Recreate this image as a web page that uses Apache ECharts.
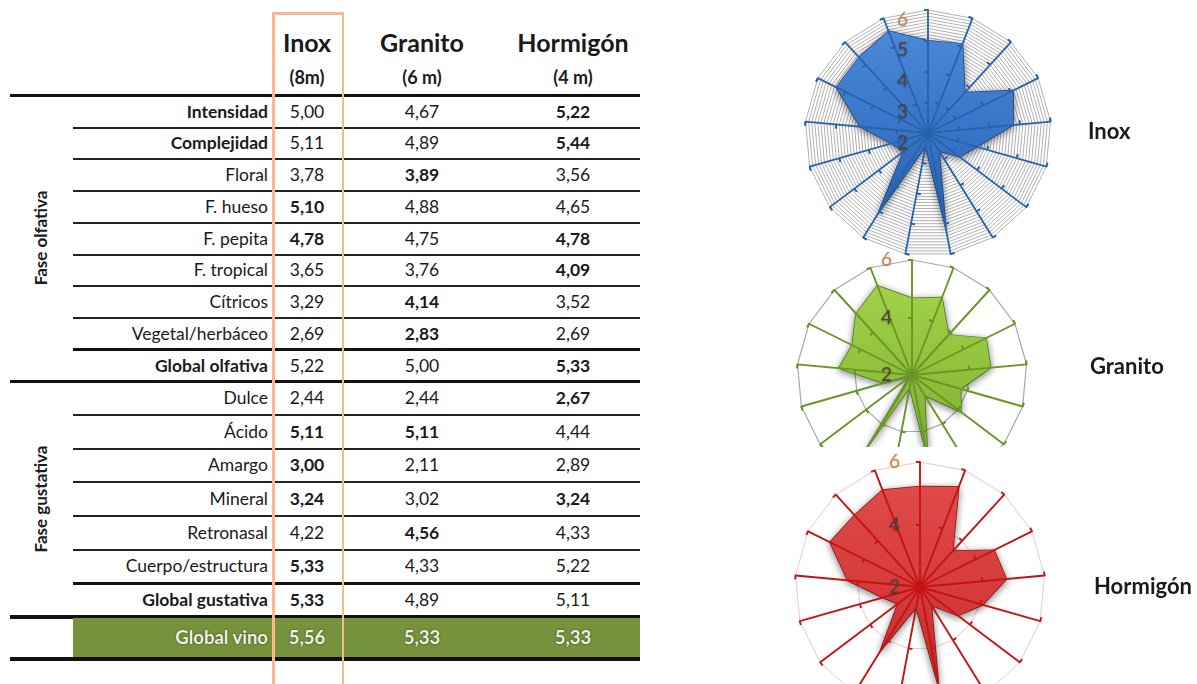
<!DOCTYPE html>
<html lang="es">
<head>
<meta charset="utf-8">
<title>Cata por tipo de depósito</title>
<script src="https://cdn.jsdelivr.net/npm/echarts@6/dist/echarts.min.js"></script>
<style>
  html, body { margin: 0; padding: 0; background: #fff; }
  #page { position: relative; width: 1197px; height: 684px; overflow: hidden; background: #fff;
          font-family: Lato, "Open Sans", sans-serif; color: #1a1a1a; }
  .abs { position: absolute; }
  .txt { position: absolute; white-space: nowrap; line-height: 1; }
  .chart { position: absolute; }
</style>
</head>
<body>
<div id="page">
  <div id="table"></div>
  <div id="cInox" class="chart" style="left:790px; top:0px; width:407px; height:262px;"></div>
  <div id="cGranito" class="chart" style="left:790px; top:245px; width:407px; height:202px;"></div>
  <div id="cHormigon" class="chart" style="left:780px; top:447px; width:417px; height:237px;"></div>
</div>
<script>
// ---- Data ----
const attributes = ['Intensidad', 'Complejidad', 'Floral', 'F. hueso', 'F. pepita', 'F. tropical',
  'Cítricos', 'Vegetal/herbáceo', 'Global olfativa', 'Dulce', 'Ácido', 'Amargo', 'Mineral',
  'Retronasal', 'Cuerpo/estructura', 'Global gustativa', 'Global vino'];
const inox     = [5.00, 5.11, 3.78, 5.10, 4.78, 3.65, 3.29, 2.69, 5.22, 2.44, 5.11, 3.00, 3.24, 4.22, 5.33, 5.33, 5.56];
const granito  = [4.67, 4.89, 3.89, 4.88, 4.75, 3.76, 4.14, 2.83, 5.00, 2.44, 5.11, 2.11, 3.02, 4.56, 4.33, 4.89, 5.33];
const hormigon = [5.22, 5.44, 3.56, 4.65, 4.78, 4.09, 3.52, 2.69, 5.33, 2.67, 4.44, 2.89, 3.24, 4.33, 5.22, 5.11, 5.33];
const columns = ['Inox', 'Granito', 'Hormigón'];
const subtitles = ['(8m)', '(6 m)', '(4 m)'];
const phases = ['Fase olfativa', 'Fase gustativa'];
const phaseSizes = [9, 7];              // attributes per phase; the last one is the global row
const boldLabels = ['Intensidad', 'Complejidad', 'Global olfativa', 'Global gustativa'];
const radarTicks = [2, 3, 4, 5, 6];

const series = [inox, granito, hormigon];
const fmt = v => v.toFixed(2).replace('.', ',');

// ---- Table ----
const page = document.getElementById('table');
function box(x, y, w, h, color) {
  const d = document.createElement('div');
  d.className = 'abs';
  Object.assign(d.style, { left: x + 'px', top: y + 'px', width: w + 'px', height: h + 'px', background: color });
  page.appendChild(d);
  return d;
}
function text(str, x, y, opts) {
  const d = document.createElement('div');
  d.className = 'txt';
  d.textContent = str;
  const align = opts.align || 'center';
  const tx = align === 'center' ? '-50%' : (align === 'right' ? '-100%' : '0');
  Object.assign(d.style, {
    left: x + 'px', top: y + 'px', fontSize: (opts.size || 16) + 'px',
    fontWeight: opts.bold ? '700' : '400', color: opts.color || '#1a1a1a',
    transform: `translate(${tx}, -50%)` + (opts.rotate ? ` rotate(${opts.rotate}deg)` : ''),
    textShadow: opts.shadow || 'none'
  });
  page.appendChild(d);
  return d;
}

const colX = [307, 422, 573];
const labelRight = 268;
const bodySize = 17.5;

// column headers
columns.forEach((c, i) => {
  text(c, colX[i], 42, { size: 25, bold: true });
  text(subtitles[i], colX[i], 77, { size: 18, bold: true });
});

// phase blocks
const sectionTop = [95.5, 381];
const rowStep = [31.75, 33.67];
let attrIdx = 0;
box(10, 94, 630, 3, '#111');
phases.forEach((p, s) => {
  const n = phaseSizes[s];
  const y0 = sectionTop[s] + rowStep[s] / 2 + 0.3;
  for (let r = 0; r < n; r++) {
    const a = attrIdx + r;
    const y = y0 + r * rowStep[s];
    text(attributes[a], labelRight, y, { size: bodySize, bold: boldLabels.includes(attributes[a]), align: 'right' });
    const vals = series.map(sr => sr[a]);
    const mx = Math.max(...vals);
    vals.forEach((v, k) => text(fmt(v), colX[k], y, { size: bodySize, bold: v === mx }));
    const ly = y + rowStep[s] / 2;
    if (r < n - 2) box(73, ly - 1, 567, 2, '#222');
    else if (r === n - 2) box(73, ly - 1.5, 567, 3, '#111');
  }
  const bottom = sectionTop[s] + n * rowStep[s];
  if (s === 0) box(10, bottom - 1.5, 630, 3, '#111');
  else box(10, bottom - 2, 630, 4, '#111');
  text(p, 40, (sectionTop[s] + bottom) / 2, { size: 17, bold: true, rotate: -90 });
  attrIdx += n;
});

// overall row on a green band
const vino = attributes.length - 1;
box(73, 618, 567, 40, '#76923c');
box(10, 657, 630, 4, '#111');
const glow = '0 0 2px #3d4a22, 0 0 1px #3d4a22';
text(attributes[vino], labelRight, 637, { size: 18.5, bold: true, color: '#eef3e2', shadow: glow, align: 'right' });
series.forEach((sr, k) => text(fmt(sr[vino]), colX[k], 637, { size: 18.5, bold: true, color: '#eef3e2', shadow: glow }));

// highlighted Inox column frame
box(272, 12, 72, 2.5, '#f7b98b');
box(272, 12, 2.5, 672, '#f7b98b');
box(341.5, 12, 2.5, 672, '#f7b98b');

// ---- Radar charts ----
// indicators are laid out counter-clockwise, so keep the first one at the top and reverse the rest
const order = [0].concat(attributes.map((_, i) => i).slice(1).reverse());
const rMin = radarTicks[0], rMax = radarTicks[radarTicks.length - 1];

function indicators(withLabel) {
  return order.map((i, k) => ({ name: attributes[i], min: rMin, max: rMax, axisLabel: { show: withLabel && k === 0 } }));
}

function labelStyle(margin, vAlign) {
  return {
    show: false, margin: margin, fontFamily: 'Lato, sans-serif', fontSize: 19, verticalAlign: vAlign,
    formatter: v => (+v === rMax ? '{top|' + v + '}' : '{n|' + v + '}'),
    rich: {
      top: { color: '#c8894e', fontSize: 19, fontFamily: 'Lato, sans-serif',
             textShadowColor: 'rgba(0,0,0,0.25)', textShadowBlur: 2 },
      n: { color: '#4f443d', fontSize: 19, fontFamily: 'Lato, sans-serif',
           textShadowColor: 'rgba(0,0,0,0.35)', textShadowBlur: 2, textShadowOffsetY: 1 }
    }
  };
}

function buildChart(el, cfg) {
  const chart = echarts.init(document.getElementById(el), null, { renderer: 'canvas' });
  const base = { center: cfg.center, radius: cfg.radius, startAngle: 90, shape: 'polygon',
                 axisName: { show: false }, splitArea: { show: false } };
  const radars = [
    // background grid
    Object.assign({}, base, {
      z: 1, splitNumber: cfg.gridSplits, indicator: indicators(false),
      axisLine: { show: false }, axisTick: { show: false }, axisLabel: { show: false },
      splitLine: { lineStyle: { color: cfg.gridColor, width: cfg.gridWidth } }
    }),
    // spokes, outer ticks and value labels above the filled area
    Object.assign({}, base, {
      z: 3, splitNumber: cfg.majorSplits, indicator: indicators(true),
      axisLine: { show: true, lineStyle: { color: cfg.axisColor, width: cfg.axisWidth } },
      axisTick: { show: true, length: 4, lineStyle: { color: cfg.axisColor, width: cfg.axisWidth } },
      axisLabel: labelStyle(cfg.labelMargin, cfg.labelAlign),
      splitLine: { show: false }
    })
  ];
  if (cfg.crossTicks) {
    radars.push(Object.assign({}, base, {
      z: 3, splitNumber: cfg.majorSplits, indicator: indicators(false),
      axisLine: { show: false }, axisLabel: { show: false }, splitLine: { show: false },
      axisTick: { show: true, inside: true, length: 4, lineStyle: { color: cfg.axisColor, width: cfg.axisWidth } }
    }));
  }
  chart.setOption({
    animation: false,
    title: { text: cfg.title, left: cfg.titleX, top: cfg.titleY,
             textStyle: { fontFamily: 'Lato, sans-serif', fontSize: 22, fontWeight: 'bold', color: '#1a1a1a' } },
    radar: radars,
    series: [{
      type: 'radar', radarIndex: 0, z: 2, symbol: 'none',
      lineStyle: { color: cfg.edge, width: 1.4, shadowColor: 'rgba(0,0,0,0.5)', shadowBlur: 7, shadowOffsetY: 2 },
      areaStyle: { opacity: 1, color: new echarts.graphic.LinearGradient(0, 0, 0, 1, [
        { offset: 0, color: cfg.fillTop }, { offset: 0.55, color: cfg.fillMid }, { offset: 1, color: cfg.fillBottom }]),
        shadowColor: 'rgba(0,0,0,0.45)', shadowBlur: 7, shadowOffsetY: 2 },
      data: [{ name: cfg.title, value: order.map(i => cfg.values[i]) }]
    }]
  });
}

buildChart('cInox', {
  title: columns[0], titleX: 293, titleY: 116, values: inox,
  center: [138, 133], radius: 123, gridSplits: 40, majorSplits: 4,
  gridColor: '#b0b0b0', gridWidth: 1, axisColor: '#2a62aa', axisWidth: 1.8, crossTicks: true,
  labelMargin: 20, labelAlign: 'top',
  fillTop: '#4a88d8', fillMid: '#3673c6', fillBottom: '#2459a8', edge: '#1f4e8e'
});
buildChart('cGranito', {
  title: columns[1], titleX: 295, titleY: 106, values: granito,
  center: [122, 130], radius: 115, gridSplits: 2, majorSplits: 2,
  gridColor: '#a8a8a8', gridWidth: 1.2, axisColor: '#6a9528', axisWidth: 1.9, crossTicks: true,
  labelMargin: 20, labelAlign: 'middle',
  fillTop: '#a2d04a', fillMid: '#8dc03a', fillBottom: '#76a82a', edge: '#5b8520'
});
buildChart('cHormigon', {
  title: columns[2], titleX: 309, titleY: 124, values: hormigon,
  center: [140, 140], radius: 125, gridSplits: 2, majorSplits: 2,
  gridColor: '#f2c4c4', gridWidth: 1, axisColor: '#c41414', axisWidth: 1.9, crossTicks: false,
  labelMargin: 20, labelAlign: 'middle',
  fillTop: '#e04a4a', fillMid: '#d43a3a', fillBottom: '#bf2828', edge: '#991414'
});
</script>
</body>
</html>
